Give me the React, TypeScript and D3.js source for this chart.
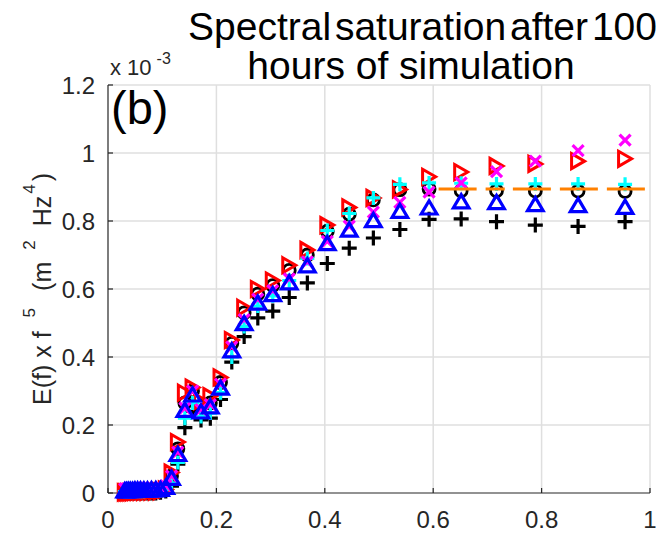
import React from 'react';
import * as d3 from 'd3';

// Frequency bins (Hz), geometric spacing
const freq = [
  0.0309, 0.0339, 0.0373, 0.0411, 0.0452, 0.0497, 0.0547, 0.0601, 0.0662, 0.0728,
  0.0801, 0.0881, 0.0969, 0.1066, 0.1172, 0.1289, 0.1418, 0.156, 0.1716, 0.1888,
  0.2076, 0.2284, 0.2512, 0.2764, 0.304, 0.3344, 0.3678, 0.4046, 0.4451, 0.4896,
  0.5385, 0.5924, 0.6516, 0.7168, 0.7884, 0.8673, 0.954,
];

// E(f) x f^5, in units of 1e-3 m^2 Hz^4
const blackPlus = [
  0.0, 0.0, 0.0, 0.0, 0.0, 0.0, 0.0, 0.0, 0.0, 0.0,
  0.0, 0.0, 0.002, 0.006, 0.02, 0.085, 0.192, 0.24, 0.215, 0.22,
  0.275, 0.385, 0.46, 0.515, 0.535, 0.575, 0.618, 0.675, 0.72, 0.75,
  0.775, 0.805, 0.806, 0.798, 0.788, 0.784, 0.798,
];
const blackCircle = [
  0.004, 0.004, 0.004, 0.005, 0.005, 0.005, 0.005, 0.005, 0.006, 0.006,
  0.006, 0.007, 0.008, 0.014, 0.05, 0.13, 0.265, 0.3, 0.255, 0.265,
  0.325, 0.44, 0.53, 0.585, 0.61, 0.655, 0.7, 0.77, 0.82, 0.862,
  0.892, 0.894, 0.889, 0.889, 0.888, 0.888, 0.887,
];
const redRight = [
  0.002, 0.002, 0.002, 0.002, 0.002, 0.003, 0.003, 0.003, 0.003, 0.003,
  0.004, 0.004, 0.005, 0.01, 0.06, 0.15, 0.295, 0.31, 0.27, 0.285,
  0.34, 0.45, 0.545, 0.6, 0.625, 0.67, 0.715, 0.788, 0.84, 0.868,
  0.893, 0.93, 0.944, 0.962, 0.968, 0.976, 0.983,
];
const cyanPlus = [
  0.004, 0.004, 0.004, 0.004, 0.005, 0.005, 0.005, 0.005, 0.005, 0.006,
  0.006, 0.006, 0.007, 0.01, 0.03, 0.09, 0.22, 0.265, 0.225, 0.235,
  0.295, 0.4, 0.49, 0.55, 0.58, 0.625, 0.69, 0.772, 0.822, 0.868,
  0.908, 0.912, 0.911, 0.909, 0.909, 0.909, 0.908,
];
const magentaCross = [
  0.012, 0.012, 0.013, 0.013, 0.013, 0.014, 0.014, 0.014, 0.015, 0.015,
  0.015, 0.016, 0.017, 0.022, 0.05, 0.12, 0.25, 0.3, 0.245, 0.26,
  0.32, 0.43, 0.51, 0.57, 0.595, 0.63, 0.68, 0.74, 0.785, 0.826,
  0.855, 0.885, 0.912, 0.945, 0.976, 1.007, 1.038,
];
const blueUp = [
  0.008, 0.008, 0.009, 0.009, 0.009, 0.01, 0.01, 0.01, 0.01, 0.01,
  0.011, 0.011, 0.012, 0.018, 0.045, 0.115, 0.245, 0.29, 0.24, 0.255,
  0.31, 0.42, 0.5, 0.56, 0.585, 0.62, 0.67, 0.735, 0.775, 0.803,
  0.83, 0.84, 0.858, 0.856, 0.85, 0.847, 0.842,
];

// Saturation level (dashed reference), drawn as two runs
const satLevel = 0.894;
const satStart = [0.61, 0.747];
const satEnd = [0.732, 1.0];

const xTicks = [0, 0.2, 0.4, 0.6, 0.8, 1];
const xTickLabels = ['0', '0.2', '0.4', '0.6', '0.8', '1'];
const yTicks = [0, 0.2, 0.4, 0.6, 0.8, 1, 1.2];
const yTickLabels = ['0', '0.2', '0.4', '0.6', '0.8', '1', '1.2'];

const W = 656;
const H = 533;
const FONT = '"Liberation Sans", Arial, Helvetica, sans-serif';
const AXIS = '#262626';
const GRID = '#dfdfdf';

const plusPath = (s: number) => `M${-s},0H${s}M0,${-s}V${s}`;
const crossPath = (s: number) => `M${-s},${-s}L${s},${s}M${-s},${s}L${s},${-s}`;
const triUpPath = (w: number, h: number) => `M0,${-h}L${w},${h}L${-w},${h}Z`;
const triRightPath = (w: number, h: number) => `M${-h},${-w}L${h},0L${-h},${w}Z`;
const circlePath = (r: number) => `M${r},0A${r},${r},0,1,1,${-r},0A${r},${r},0,1,1,${r},0Z`;

export default function App() {
  const x = d3.scaleLinear().domain([0, 1]).range([108, 650]);
  const y = d3.scaleLinear().domain([0, 1.2]).range([493, 85]);

  const markers = (
    vals: number[],
    d: string,
    stroke: string,
    sw: number,
    key: string,
  ) => (
    <g key={key} fill="none" stroke={stroke} strokeWidth={sw} strokeLinejoin="miter">
      {vals.map((v, i) => (
        <path key={i} d={d} transform={`translate(${x(freq[i])},${y(v)})`} />
      ))}
    </g>
  );

  return (
    <svg
      width={W}
      height={H}
      style={{ position: 'absolute', left: 0, top: 0, background: '#fff' }}
      fontFamily={FONT}
    >
      <rect x={0} y={0} width={W} height={H} fill="#fff" />

      {/* grid */}
      <g stroke={GRID} strokeWidth={1.5}>
        {xTicks.slice(1).map((t) => (
          <line key={'gx' + t} x1={x(t)} x2={x(t)} y1={y(0)} y2={y(1.2)} />
        ))}
        {yTicks.slice(1).map((t) => (
          <line key={'gy' + t} x1={x(0)} x2={x(1)} y1={y(t)} y2={y(t)} />
        ))}
      </g>

      {/* axes */}
      <g stroke={AXIS} strokeWidth={1.2}>
        <line x1={x(0)} x2={x(1)} y1={y(0)} y2={y(0)} />
        <line x1={x(0)} x2={x(0)} y1={y(0)} y2={y(1.2)} />
        {xTicks.map((t) => (
          <line key={'tx' + t} x1={x(t)} x2={x(t)} y1={y(0)} y2={y(0) - 5} />
        ))}
        {yTicks.map((t) => (
          <line key={'ty' + t} x1={x(0)} x2={x(0) + 5} y1={y(t)} y2={y(t)} />
        ))}
      </g>

      {/* data */}
      {markers(blackPlus, plusPath(7.5), '#000', 3.2, 'bp')}
      {markers(blackCircle, circlePath(6), '#000', 2.8, 'bc')}
      {markers(redRight, triRightPath(7.5, 6.5), '#ff0000', 3, 'rr')}
      {markers(cyanPlus, plusPath(7), '#00ffff', 3.2, 'cp')}
      {markers(magentaCross, crossPath(5.5), '#ff00ff', 3.2, 'mx')}
      {markers(blueUp, triUpPath(7.8, 6.6), '#0000ff', 3.2, 'bu')}

      {/* saturation reference */}
      <g stroke="#ff8000" strokeWidth={3} strokeDasharray="38,9">
        {satStart.map((s, i) => (
          <line key={'sat' + i} x1={x(s)} x2={x(satEnd[i])} y1={y(satLevel)} y2={y(satLevel)} />
        ))}
      </g>

      {/* tick labels */}
      <g fill={AXIS} fontSize={24}>
        {xTicks.map((t, i) => (
          <text key={'lx' + t} x={x(t)} y={528} textAnchor="middle">
            {xTickLabels[i]}
          </text>
        ))}
        {yTicks.map((t, i) => (
          <text key={'ly' + t} x={95} y={y(t) + 8.5} textAnchor="end">
            {yTickLabels[i]}
          </text>
        ))}
      </g>

      {/* exponent */}
      <text x={110} y={75} fill={AXIS} fontSize={22}>
        x 10
        <tspan dx={5} dy={-11} fontSize={16}>-3</tspan>
      </text>

      {/* y label */}
      <g transform="translate(51,405) rotate(-90)">
        <text x={0} y={0} fill={AXIS} fontSize={25}>
          <tspan>E(f) x f</tspan>
          <tspan dx={14} dy={-16} fontSize={17}>5</tspan>
          <tspan dx={17} dy={16}>(m</tspan>
          <tspan dx={12} dy={-16} fontSize={17}>2</tspan>
          <tspan dx={14} dy={16}>Hz</tspan>
          <tspan dx={2} dy={-16} fontSize={17}>4</tspan>
          <tspan dx={3} dy={16}>)</tspan>
        </text>
      </g>

      {/* panel label */}
      <text x={111} y={124} fill="#000" fontSize={47}>(b)</text>

      {/* title */}
      <g fill="#000" fontSize={39}>
        <text x={188} y={40} wordSpacing={-7}>Spectral saturation after 100</text>
        <text x={411} y={79} textAnchor="middle">hours of simulation</text>
      </g>
    </svg>
  );
}
